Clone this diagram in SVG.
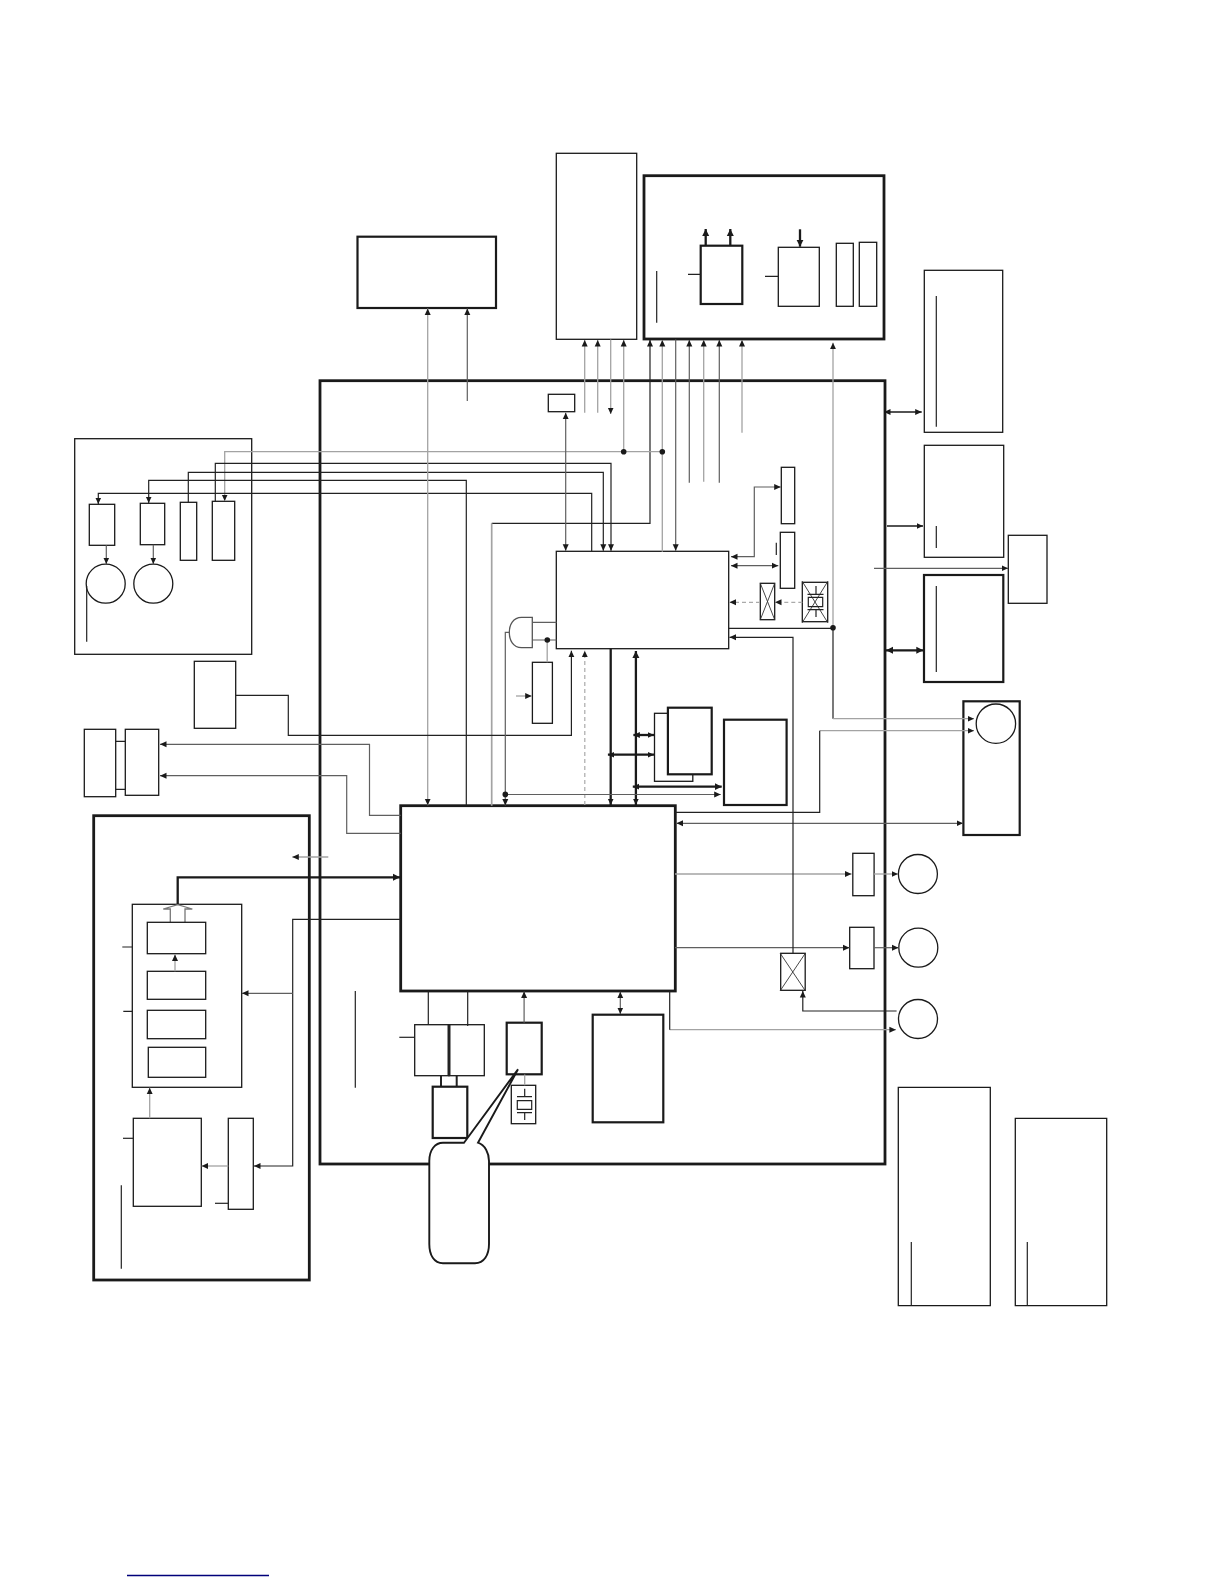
<svg xmlns="http://www.w3.org/2000/svg" width="1224" height="1584" viewBox="0 0 1224 1584">
<style>
rect,circle,.n{fill:#fff;stroke:#1a1a1a;stroke-width:1.3}
.t{stroke-width:2.8}
.m{stroke-width:2.2}
.x{fill:none;stroke:#333;stroke-width:.9}
#connectors path{fill:none;stroke:#222;stroke-width:1.2}
#connectors path.g{stroke:#a3a3a3;stroke-width:1.3}
#connectors path.s{stroke:#5f5f5f}
#connectors path.h{stroke:#1a1a1a;stroke-width:2.3}
#connectors path.d{stroke:#aaa;stroke-dasharray:4 3}
.l{fill:none;stroke:#222;stroke-width:1.2}
.dot{fill:#1a1a1a;stroke:none}
</style>
<defs>
<marker id="a" markerUnits="userSpaceOnUse" markerWidth="7" markerHeight="7" refX="6.5" refY="3.5" orient="auto-start-reverse"><path d="M0 .5L6.5 3.5L0 6.5z" fill="#1a1a1a"/></marker>
<marker id="b" markerUnits="userSpaceOnUse" markerWidth="8" markerHeight="8" refX="7" refY="4" orient="auto-start-reverse"><path d="M0 .5L7 4L0 7.5z" fill="#1a1a1a"/></marker>
</defs>
<rect width="1224" height="1584" style="fill:#fff;stroke:none"/>

<g id="main-board"><rect class="t" x="320" y="380.7" width="565" height="783.3"/></g>
<g id="left-unit"><rect x="74.7" y="438.7" width="177" height="215.6"/></g>
<g id="lower-left-unit"><rect class="t" x="93.7" y="815.7" width="215.6" height="464.3"/></g>
<g id="top-box"><rect class="m" x="357.5" y="236.7" width="138.5" height="71.3"/></g>
<g id="col-a"><rect x="556.3" y="153.3" width="80.4" height="186"/></g>
<g id="top-unit">
<rect class="t" x="644" y="175.7" width="240" height="163.3"/>
<rect class="m" x="700.7" y="245.7" width="41.6" height="58.3"/>
<rect x="778.3" y="247.3" width="41" height="59"/>
<rect x="836.3" y="243.3" width="17" height="63"/>
<rect x="859.3" y="242.3" width="17.4" height="64"/>
<path class="l" d="M656.7 271V322.7M688 274.3H700.7M765 276.3H778.3"/>
</g>
<g id="main-chip"><rect class="t" x="400.7" y="805.7" width="274.6" height="185.3"/></g>
<g id="sub-chip"><rect x="556.3" y="551.3" width="172.4" height="97.4"/></g>
<g id="small-box"><rect x="548.3" y="394.3" width="26.4" height="17.4"/></g>
<g id="gate"><path class="n" style="stroke:#555" d="M532.3 617.3H521.5C513 617.3 509.3 625 509.3 632.5C509.3 640 513 647.7 521.5 647.7H532.3Z"/></g>
<g id="box-trig"><rect x="532.4" y="662.3" width="20" height="61"/></g>
<g id="mem-back"><rect x="654.5" y="713.3" width="38.3" height="68"/></g>
<g id="mem-front"><rect class="m" x="667.9" y="707.7" width="43.8" height="66.6"/></g>
<g id="mem-big"><rect class="m" x="724" y="719.7" width="62.6" height="85.3"/></g>
<g id="side-a"><rect x="781.3" y="467.3" width="13.4" height="56.4"/></g>
<g id="side-b"><rect x="780.3" y="532.3" width="14.4" height="56"/><path class="l" d="M776.3 542.7V555"/></g>
<g id="x1"><rect x="760.3" y="583.3" width="14.4" height="36.4"/><path class="x" d="M760.3 583.3L774.7 619.7M774.7 583.3L760.3 619.7"/></g>
<g id="xtal-x"><rect x="802.3" y="582.3" width="25.4" height="39.4"/>
<path class="x" d="M802 623L828 581M828 623L802 581"/>
<path class="l" d="M808.3 597.3H822.7V606.7H808.3ZM807.5 594.3H823.5M807.5 609.7H823.5M816 586V594.3M816 609.7V617"/></g>
<g id="x2"><rect x="780.7" y="953.3" width="24.5" height="37"/><path class="x" d="M780 991L805.5 953M805.5 991L780 953"/></g>
<g id="right-a"><rect x="924.3" y="270.3" width="78.4" height="162"/><path class="l" d="M936.3 296V426.7"/></g>
<g id="right-b"><rect x="924.3" y="445.3" width="79.4" height="112"/><path class="l" d="M936.3 526V548"/></g>
<g id="right-c"><rect class="m" x="924" y="575" width="79.3" height="107"/><path class="l" d="M936.3 586V672"/></g>
<g id="right-d"><rect x="1008.3" y="535.3" width="38.7" height="68"/></g>
<g id="motor-unit"><rect class="m" x="963.4" y="701.3" width="56.3" height="133.7"/><circle cx="995.9" cy="723.7" r="19.7"/></g>
<g id="drv1"><rect x="852.8" y="853.3" width="21.3" height="42.4"/></g>
<g id="m1"><circle cx="917.9" cy="874" r="19.5"/></g>
<g id="drv2"><rect x="849.7" y="927.3" width="24.3" height="41.4"/></g>
<g id="m2"><circle cx="918.3" cy="947.7" r="19.5"/></g>
<g id="m3"><circle cx="918" cy="1019" r="19.5"/></g>
<g id="right-e"><path class="n" d="M898.3 1305.7V1087.3H990.3V1305.7Z"/><path class="l" d="M911.3 1242V1305.7"/></g>
<g id="right-f"><path class="n" d="M1015.3 1305.7V1118.3H1106.7V1305.7Z"/><path class="l" d="M1027.3 1242V1305.7"/></g>
<g id="left-parts">
<rect x="89.3" y="504.3" width="25.4" height="41"/>
<rect x="140.3" y="503.3" width="24.4" height="41.4"/>
<rect x="180.3" y="502.3" width="16.4" height="58"/>
<rect x="212.3" y="501.3" width="22.4" height="59"/>
<circle cx="105.7" cy="583.7" r="19.5"/>
<circle cx="153.3" cy="583.7" r="19.5"/>
<path class="l" d="M86.7 586V641.7"/>
</g>
<g id="box-l1"><rect x="194.3" y="661.3" width="41.4" height="67"/></g>
<g id="box-l2"><path class="l" d="M115.7 741.3H125.3M115.7 789.3H125.3"/><rect x="84.3" y="729.3" width="31.4" height="67.4"/><rect x="125.3" y="729.3" width="33.4" height="66"/></g>
<g id="stack">
<rect x="132.3" y="904.3" width="109.4" height="183"/>
<path class="n" style="stroke:#777" d="M170.3 922.7V909H163.3L177.7 904.7L192.3 909H185V922.7Z"/>
<rect x="147.3" y="922.3" width="58.4" height="31.4"/>
<rect x="147.3" y="971.3" width="58.4" height="28"/>
<rect x="147.3" y="1010.3" width="58.4" height="28.4"/>
<rect x="148.3" y="1047.3" width="57.4" height="30"/>
<path class="l" d="M122.3 947H132.3M123.3 1011.3H132.3"/>
</g>
<g id="box-l5"><rect x="133.3" y="1118.3" width="68" height="88"/><path class="l" d="M123 1138.3H133.3"/></g>
<g id="box-l6"><rect x="228.3" y="1118.3" width="25" height="91"/><path class="l" d="M215 1203.3H228.3"/></g>
<path class="l" d="M121.3 1185.3V1268.7M355.3 991V1087.7"/>
<g id="box-c1"><path class="l" style="stroke-width:2" d="M441 1075.7V1086.7M456.7 1075.7V1086.7"/><rect x="414.7" y="1024.7" width="34.3" height="51"/><rect x="449" y="1024.7" width="35.3" height="51"/><path class="l" style="stroke-width:3" d="M449 1024.7V1075.7"/></g>
<g id="box-c2"><rect class="m" x="432.7" y="1086.7" width="34.6" height="51.3"/></g>
<path class="l" d="M399.3 1037.3H414.7"/>
<g id="osc"><rect class="m" x="506.7" y="1022.7" width="35" height="51.6"/></g>
<g id="xtal"><rect x="511.3" y="1085.3" width="24.4" height="38.4"/><path class="l" d="M517.3 1100.7H531.7V1109.3H517.3ZM517 1096.7H532M517 1112.7H532M524.7 1088.7V1096.7M524.7 1112.7V1120"/></g>
<g id="ram"><rect class="m" x="592.7" y="1014.7" width="70.6" height="107.6"/></g>

<g id="connectors">
<path class="g" marker-end="url(#a)" d="M584.7 412.7V340"/>
<path class="g" marker-end="url(#a)" d="M597.7 412.7V340"/>
<path class="g" marker-end="url(#a)" d="M610.7 339.5V414"/>
<path class="g" marker-end="url(#a)" d="M623.7 451.7V340"/>
<path marker-end="url(#a)" d="M491.7 523.3H650V340"/>
<path class="g" style="stroke-width:1.7" d="M491.7 805.7V523.3"/>
<path class="g" marker-end="url(#a)" d="M662.3 551.7V340"/>
<path class="s" marker-end="url(#a)" d="M675.7 339.5V550.7"/>
<path class="s" marker-end="url(#a)" d="M689.3 482.7V340"/>
<path class="g" marker-end="url(#a)" d="M703.7 481.7V340"/>
<path class="s" marker-end="url(#a)" d="M719.3 482.7V340"/>
<path class="g" marker-end="url(#a)" d="M742 432.7V340"/>
<path class="g" marker-end="url(#a)" d="M833 627.7V342.7"/>
<path class="g" marker-end="url(#a)" d="M662.3 451.7H224.7V501"/>
<path marker-end="url(#a)" d="M215.3 501.3V463.3H611V550.7"/>
<path marker-end="url(#a)" d="M188.3 502.3V472.3H603.3V550.7"/>
<path marker-end="url(#a)" d="M466.3 805.7V480.3H148.7V503"/>
<path marker-end="url(#a)" d="M591.7 551V493.3H98.3V504"/>
<path class="s" marker-start="url(#a)" marker-end="url(#a)" d="M565.7 412.7V550.7"/>
<path class="g" marker-start="url(#a)" marker-end="url(#a)" d="M427.7 308.5V805.2"/>
<path class="s" marker-end="url(#a)" d="M467.3 401V308.5"/>
<path class="s" marker-end="url(#a)" d="M106.3 545.3V564"/>
<path class="s" marker-end="url(#a)" d="M153.3 544.7V564"/>
<path marker-end="url(#a)" d="M236 695.3H288.3V735.3H571.4V650.7"/>
<path class="d" marker-end="url(#a)" d="M584.8 805V650.7"/>
<path class="s" marker-end="url(#a)" d="M400.7 815.3H369.5V744.3H160"/>
<path class="s" marker-end="url(#a)" d="M400.7 833.3H346.7V775.7H160"/>
<path class="g" marker-end="url(#a)" d="M328.3 857H292.3"/>
<path class="h" marker-end="url(#b)" d="M177.7 904V877.3H400"/>
<path marker-end="url(#a)" d="M400.7 919.3H292.7V1166H254"/>
<path class="s" marker-end="url(#a)" d="M292.7 993.3H242"/>
<path class="g" marker-end="url(#a)" d="M228.3 1166H201.7"/>
<path class="g" marker-end="url(#a)" d="M149.7 1118.3V1087.7"/>
<path class="g" marker-end="url(#a)" d="M175 971.3V954.5"/>
<path class="h" marker-end="url(#a)" d="M610.7 648.7V805"/>
<path class="h" marker-start="url(#b)" marker-end="url(#a)" d="M635.9 651V805"/>
<path class="h" marker-start="url(#a)" marker-end="url(#a)" d="M633.4 735H654"/>
<path class="h" marker-start="url(#a)" marker-end="url(#a)" d="M607.9 754.7H654"/>
<path class="h" marker-start="url(#a)" marker-end="url(#b)" d="M632.8 786.7H721.7"/>
<path class="s" marker-end="url(#a)" d="M505.3 794.5H720.7"/>
<path class="s" marker-end="url(#a)" d="M509.3 632.3H505.3V805.5"/>
<path class="g" d="M547.2 662.3V640"/>
<path class="s" d="M532.8 640H556.5M532.3 622.3H556.5"/>
<path class="g" marker-end="url(#a)" d="M516 696H531.7"/>
<path class="s" marker-start="url(#a)" marker-end="url(#a)" d="M780.7 487H754.3V556.7H731"/>
<path class="s" marker-start="url(#a)" marker-end="url(#a)" d="M731 565.7H778.3"/>
<path class="d" marker-end="url(#a)" d="M760 602.3H729.5"/>
<path class="d" marker-end="url(#a)" d="M802.3 602.3H775"/>
<path d="M728.7 628.3H833V718.7"/>
<path class="g" marker-end="url(#a)" d="M833 718.7H974"/>
<path class="g" marker-end="url(#a)" d="M819.7 730.7H974"/>
<path d="M819.7 730.7V812.3H675"/>
<path class="s" marker-start="url(#a)" marker-end="url(#a)" d="M676.5 823.3H963"/>
<path class="g" marker-end="url(#a)" d="M675 874H851.5"/>
<path class="g" marker-end="url(#a)" d="M874 874H898"/>
<path class="s" marker-end="url(#a)" d="M675 947.7H849.5"/>
<path class="s" marker-end="url(#a)" d="M874 947.7H898.5"/>
<path marker-end="url(#a)" d="M793 953.3V637.3H729.5"/>
<path marker-end="url(#a)" d="M896.6 1011H802.8V991"/>
<path class="g" marker-end="url(#a)" d="M669.7 1029.7H895.9"/>
<path d="M669.7 991V1029.7"/>
<path class="s" marker-start="url(#a)" marker-end="url(#a)" d="M620.3 991.7V1014"/>
<path class="s" marker-end="url(#a)" d="M524.1 1022.7V991.5"/>
<path d="M428.3 991V1024.7M467.7 991V1026"/>
<path class="g" d="M524.7 1074.5V1085.3"/>
<path class="h" style="stroke-width:1.5" marker-start="url(#a)" marker-end="url(#a)" d="M884 412H921.7"/>
<path class="h" style="stroke-width:1.5" marker-end="url(#a)" d="M887 526H923"/>
<path class="s" marker-end="url(#a)" d="M874 568.3H1008"/>
<path class="h" marker-start="url(#b)" marker-end="url(#b)" d="M886 650.3H923.3"/>
<path class="h" marker-end="url(#b)" d="M705.7 245.7V229"/>
<path class="h" marker-end="url(#b)" d="M730.3 245.7V229"/>
<path class="h" marker-end="url(#b)" d="M800 229.3V246.7"/>
</g>
<g id="dots">
<circle class="dot" cx="623.7" cy="451.7" r="2.8"/>
<circle class="dot" cx="662.3" cy="451.7" r="2.8"/>
<circle class="dot" cx="833" cy="627.7" r="2.8"/>
<circle class="dot" cx="547.3" cy="640" r="2.8"/>
<circle class="dot" cx="505.3" cy="794.4" r="2.8"/>
</g>
<g id="callout"><path class="n" style="stroke-width:1.9" d="M464 1142.7L518 1069.3L478 1142.7C485 1145 489 1153 489 1161V1244C489 1255 484 1263.3 475 1263.3H443C434 1263.3 429.3 1255 429.3 1244V1161C429.3 1150 435 1142.7 443 1142.7Z"/></g>
<g id="footer"><path d="M127 1575.5H269" fill="none" stroke="#00007a" stroke-width="1.4"/></g>
</svg>
